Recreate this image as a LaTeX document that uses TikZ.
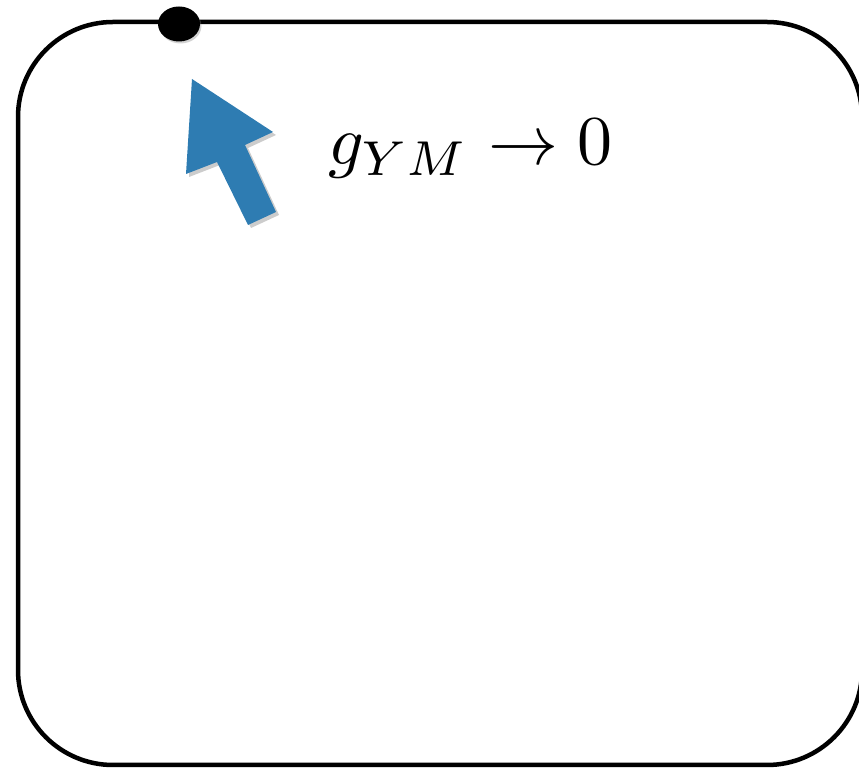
\documentclass[tikz,border=0pt]{standalone}
\usetikzlibrary{shadows,shapes.geometric}
\definecolor{arrowblue}{HTML}{2E7CB2}
\tikzset{
  frame/.style={line width=4.5pt, rounded corners=95pt},
  pin/.style={fill=black, drop shadow={shadow xshift=1.5pt, shadow yshift=-2pt, opacity=0.35}},
  bigarrow/.style={fill=arrowblue, drop shadow={shadow xshift=3pt, shadow yshift=-3pt, opacity=0.4}}
}
\begin{document}
\begin{tikzpicture}[x=1pt,y=1pt]
\useasboundingbox (0,0) rectangle (859,768);
\begin{scope}
\clip (0,0) rectangle (859,768);
\draw[frame] (18,746) rectangle (862,3);
\end{scope}
\node[pin, ellipse, inner sep=0pt, minimum width=42pt, minimum height=35pt] (dot) at (179,744) {};
\path[bigarrow] (192,689) -- (273,636) -- (245,623) -- (276,556) -- (248,543) -- (217,606) -- (186,594) -- cycle;
\node[anchor=base west, inner sep=0pt, scale=7.0] (lbl) at (327,603) {$g_{YM}\to 0$};
\end{tikzpicture}
\end{document}
